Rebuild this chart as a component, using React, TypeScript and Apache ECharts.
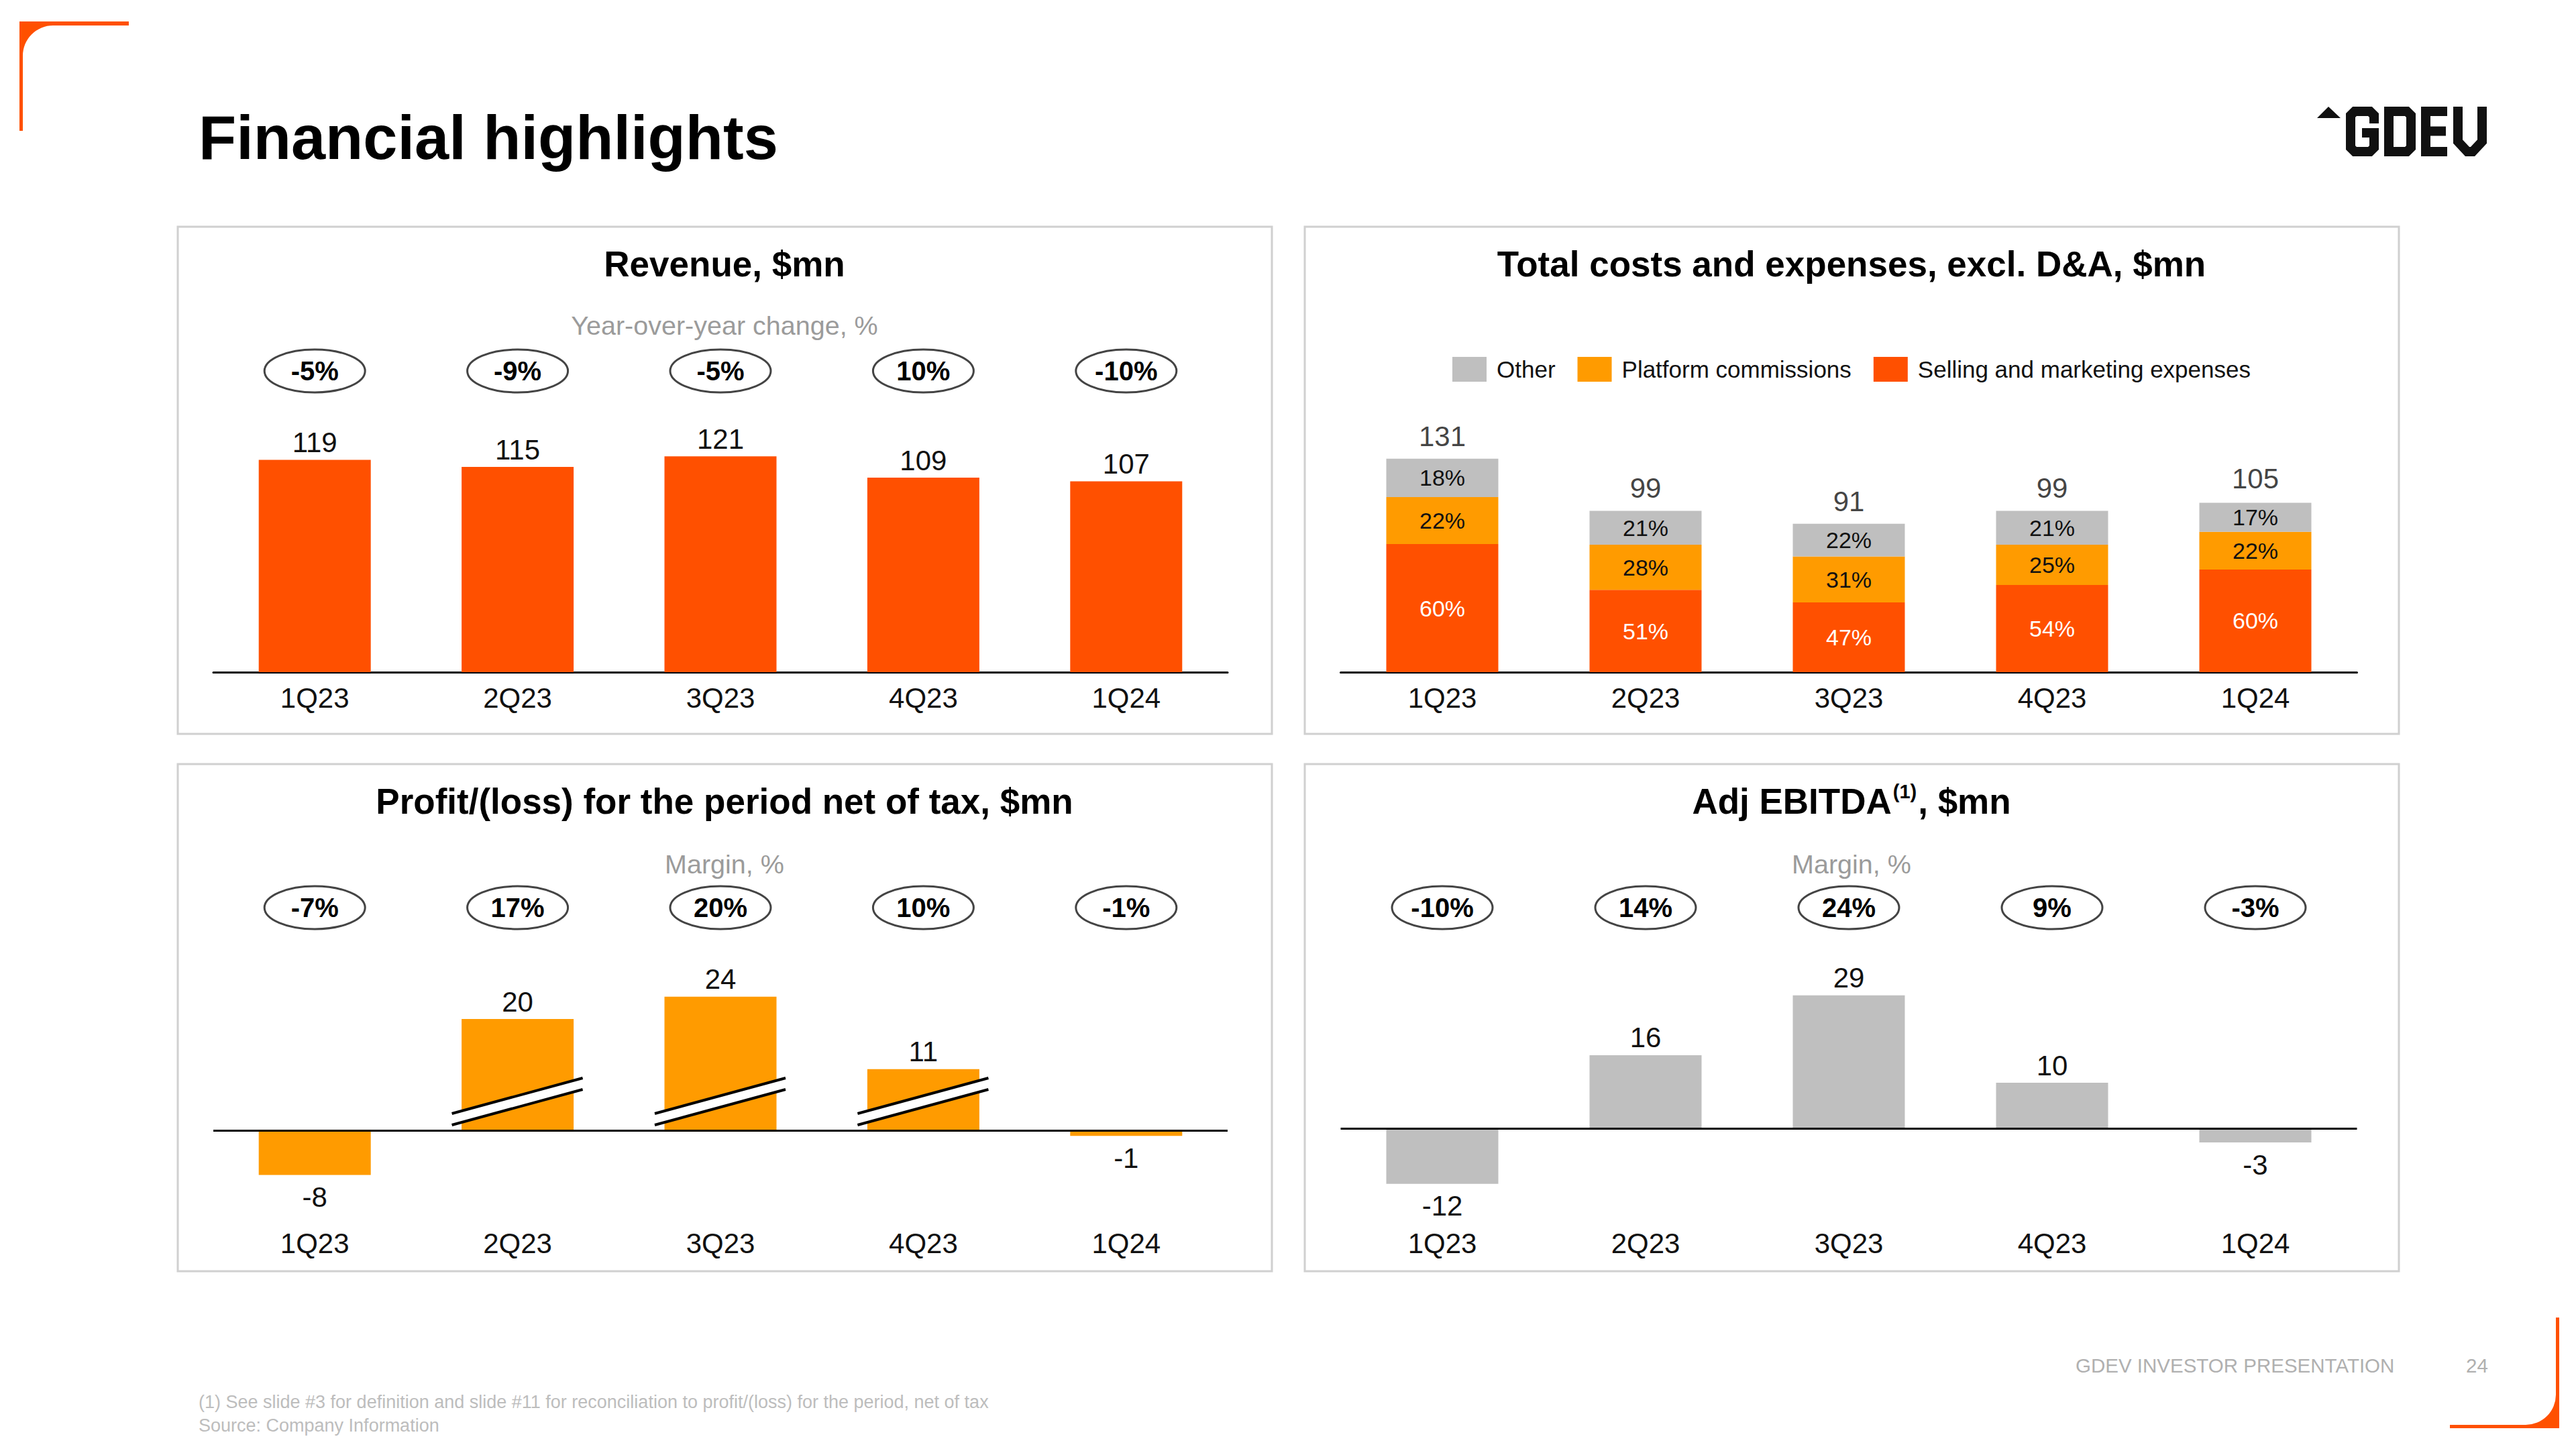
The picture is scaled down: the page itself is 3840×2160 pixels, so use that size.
import React, { useEffect, useRef } from "react";
import * as echarts from "echarts";

const quarters = ["1Q23", "2Q23", "3Q23", "4Q23", "1Q24"];
const revenue = [119, 115, 121, 109, 107];
const revenueYoY = ["-5%", "-9%", "-5%", "10%", "-10%"];
const costTotals = [131, 99, 91, 99, 105];
const costSellingPct = [60, 51, 47, 54, 60];
const costPlatformPct = [22, 28, 31, 25, 22];
const costOtherPct = [18, 21, 22, 21, 17];
const profit = [-8, 20, 24, 11, -1];
const profitMargin = ["-7%", "17%", "20%", "10%", "-1%"];
const profitBreak = [false, true, true, true, false];
const ebitda = [-12, 16, 29, 10, -3];
const ebitdaMargin = ["-10%", "14%", "24%", "9%", "-3%"];

const FONT = '"Liberation Sans", Arial, Helvetica, sans-serif';
const C_RED = "#FF5000";
const C_AMBER = "#FF9B00";
const C_GREY = "#BFBFBF";
const C_TEXT = "#111111";

const cornerTL =
  "M29 32 L192 32 L192 38 L79 38 A45 45 0 0 0 34 83 L34 195 L29 195 Z";
const cornerBR =
  "M3815 1964 L3815 2129 L3652 2129 L3652 2124 L3765 2124 A45 45 0 0 0 3810 2079 L3810 1964 Z";

let registered = false;
function registerShapes() {
  if (registered) return;
  registered = true;
  echarts.graphic.registerShape("cornerTL", echarts.graphic.extendPath(cornerTL, {}));
  echarts.graphic.registerShape("cornerBR", echarts.graphic.extendPath(cornerBR, {}));
}

function valueLabel(pos: string, dist?: number) {
  return {
    show: true,
    position: pos,
    distance: dist !== undefined ? dist : pos === "bottom" ? 12 : 5,
    fontSize: 42,
    color: C_TEXT,
    fontFamily: FONT,
  };
}

function signedData(arr: number[]) {
  return arr.map((v) => ({ value: v, label: valueLabel(v < 0 ? "bottom" : "top") }));
}

const zeroLine = {
  silent: true,
  symbol: "none",
  data: [{ yAxis: 0 }],
  lineStyle: { color: "#000", width: 3, type: "solid" },
  label: { show: false },
};

function catAxis(gridIndex: number, showLine: boolean, margin: number) {
  return {
    type: "category",
    gridIndex,
    data: quarters,
    axisLine: { show: showLine, onZero: false, lineStyle: { color: "#000", width: 3 } },
    axisTick: { show: false },
    axisLabel: { fontSize: 42, color: C_TEXT, margin, fontFamily: FONT },
  };
}

function valAxis(gridIndex: number, min: number, max: number) {
  return { type: "value", gridIndex, min, max, show: false, splitLine: { show: false } };
}

function txt(x: number, y: number, text: string, size: number, opts: any = {}) {
  return {
    type: "text",
    x,
    y,
    z: 20,
    style: {
      text,
      fontSize: size,
      fontFamily: FONT,
      fontWeight: opts.bold ? "bold" : "normal",
      fill: opts.color || "#000",
      align: opts.align || "center",
      verticalAlign: "middle",
    },
  };
}

export default function App() {
  const ref = useRef<HTMLDivElement>(null);

  useEffect(() => {
    document.body.style.margin = "0";
    document.body.style.overflow = "hidden";
    registerShapes();
    const chart = echarts.init(ref.current!, null, { renderer: "svg" });

    const option: any = {
      animation: false,
      backgroundColor: "#ffffff",
      textStyle: { fontFamily: FONT },
      legend: {
        data: ["Other", "Platform commissions", "Selling and marketing expenses"],
        left: 2165,
        top: 532,
        itemWidth: 51,
        itemHeight: 37,
        itemGap: 33,
        padding: 0,
        icon: "rect",
        selectedMode: false,
        textStyle: { fontSize: 35, color: C_TEXT, fontFamily: FONT, padding: [0, 0, 0, 10] },
      },
      grid: [
        { left: 318, top: 603, width: 1512, height: 399 },
        { left: 1998.5, top: 637.5, width: 1515, height: 364.5 },
        { left: 318, top: 1436, width: 1512, height: 332 },
        { left: 1998.5, top: 1442.75, width: 1515, height: 342.5 },
      ],
      xAxis: [
        catAxis(0, true, 17),
        catAxis(1, true, 17),
        catAxis(2, false, 64),
        catAxis(3, false, 47),
      ],
      yAxis: [valAxis(0, 0, 150), valAxis(1, 0, 150), valAxis(2, -10, 30), valAxis(3, -15, 35)],
      series: [
        {
          name: "Revenue",
          type: "bar",
          xAxisIndex: 0,
          yAxisIndex: 0,
          barWidth: 167,
          data: revenue,
          itemStyle: { color: C_RED },
          label: valueLabel("top"),
        },
        {
          name: "Selling and marketing expenses",
          type: "bar",
          stack: "cost",
          xAxisIndex: 1,
          yAxisIndex: 1,
          barWidth: 167,
          data: costTotals.map((t, i) => (t * costSellingPct[i]) / 100),
          itemStyle: { color: C_RED },
          label: {
            show: true,
            position: "inside",
            fontSize: 34,
            color: "#ffffff",
            formatter: (p: any) => costSellingPct[p.dataIndex] + "%",
          },
        },
        {
          name: "Platform commissions",
          type: "bar",
          stack: "cost",
          xAxisIndex: 1,
          yAxisIndex: 1,
          barWidth: 167,
          data: costTotals.map((t, i) => (t * costPlatformPct[i]) / 100),
          itemStyle: { color: C_AMBER },
          label: {
            show: true,
            position: "inside",
            fontSize: 34,
            color: C_TEXT,
            formatter: (p: any) => costPlatformPct[p.dataIndex] + "%",
          },
        },
        {
          name: "Other",
          type: "bar",
          stack: "cost",
          xAxisIndex: 1,
          yAxisIndex: 1,
          barWidth: 167,
          data: costTotals.map((t, i) => (t * costOtherPct[i]) / 100),
          itemStyle: { color: C_GREY },
          label: {
            show: true,
            position: "inside",
            fontSize: 34,
            color: C_TEXT,
            formatter: (p: any) => costOtherPct[p.dataIndex] + "%",
          },
        },
        {
          name: "Total",
          type: "scatter",
          xAxisIndex: 1,
          yAxisIndex: 1,
          symbolSize: 1,
          data: costTotals,
          itemStyle: { color: "rgba(0,0,0,0)" },
          label: valueLabel("top", 12),
          silent: true,
        },
        {
          name: "Profit",
          type: "bar",
          xAxisIndex: 2,
          yAxisIndex: 2,
          barWidth: 167,
          data: signedData(profit),
          itemStyle: { color: C_AMBER },
          markLine: zeroLine,
        },
        {
          name: "Adj EBITDA",
          type: "bar",
          xAxisIndex: 3,
          yAxisIndex: 3,
          barWidth: 167,
          data: signedData(ebitda),
          itemStyle: { color: C_GREY },
          markLine: zeroLine,
        },
      ],
    };
    chart.setOption(option);

    const graphics: any[] = [];
    const panels = [
      [265, 338],
      [1945, 338],
      [265, 1139],
      [1945, 1139],
    ];
    panels.forEach(([x, y]) =>
      graphics.push({
        type: "rect",
        shape: { x, y, width: 1631, height: 756 },
        style: { fill: "none", stroke: "#D0D0D0", lineWidth: 3 },
        z: 1,
      })
    );
    graphics.push({ type: "cornerTL", x: 0, y: 0, style: { fill: C_RED }, z: 5 });
    graphics.push({ type: "cornerBR", x: 0, y: 0, style: { fill: C_RED }, z: 5 });
    graphics.push(txt(296, 205, "Financial highlights", 92, { bold: true, align: "left" }));
    // logo
    const L = "#111111";
    graphics.push({
      type: "polygon",
      shape: { points: [[3454, 176], [3471, 159], [3489, 176]] },
      style: { fill: L },
      z: 5,
    });
    const off = (ox: number, oy: number, pts: number[][]) => pts.map(([a, b]) => [ox + a, oy + b]);
    const strokeStyle = { fill: "none", stroke: L, lineWidth: 14, lineJoin: "miter", lineCap: "butt" };
    graphics.push({
      type: "polyline",
      shape: {
        points: off(3497, 159, [
          [42, 25], [42, 13], [36, 7], [13, 7], [7, 13], [7, 61], [13, 67], [36, 67], [42, 61], [42, 39], [24, 39],
        ]),
      },
      style: strokeStyle,
      z: 5,
    });
    graphics.push({
      type: "polygon",
      shape: { points: off(3554, 159, [[7, 7], [34, 7], [40, 13], [40, 61], [34, 67], [7, 67]]) },
      style: strokeStyle,
      z: 5,
    });
    graphics.push({
      type: "polyline",
      shape: { points: off(3609, 159, [[39, 7], [7, 7], [7, 67], [39, 67]]) },
      style: strokeStyle,
      z: 5,
    });
    graphics.push({
      type: "line",
      shape: { x1: 3609 + 7, y1: 159 + 36.5, x2: 3609 + 37, y2: 159 + 36.5 },
      style: { stroke: L, lineWidth: 14 },
      z: 5,
    });
    graphics.push({
      type: "polyline",
      shape: { points: off(3657, 159, [[7, 0], [7, 52], [21, 67], [29, 67], [43, 52], [43, 0]]) },
      style: strokeStyle,
      z: 5,
    });
    // panel titles
    graphics.push(txt(1080, 393, "Revenue, $mn", 53, { bold: true }));
    graphics.push(txt(2760, 393, "Total costs and expenses, excl. D&A, $mn", 53, { bold: true }));
    graphics.push(txt(1080, 1194, "Profit/(loss) for the period net of tax, $mn", 53, { bold: true }));
    graphics.push({
      type: "text",
      x: 2760,
      y: 1194,
      z: 20,
      style: {
        text: "{b|Adj EBITDA}{s|(1)}{b|, $mn}",
        align: "center",
        verticalAlign: "middle",
        fontFamily: FONT,
        rich: {
          b: { fontSize: 53, fontWeight: "bold", fill: "#000", fontFamily: FONT, lineHeight: 58 },
          s: { fontSize: 29, fontWeight: "bold", fill: "#000", fontFamily: FONT, verticalAlign: "top", lineHeight: 58, padding: [0, 2, 0, 2] },
        },
      },
    });
    const SUB = "#9B9B9B";
    graphics.push(txt(1080, 485, "Year-over-year change, %", 39.5, { color: SUB }));
    graphics.push(txt(1080, 1288, "Margin, %", 39.5, { color: SUB }));
    graphics.push(txt(2760, 1288, "Margin, %", 39.5, { color: SUB }));

    const addEllipses = (axisIdx: number, labels: string[], cy: number) => {
      labels.forEach((lab, i) => {
        const p = chart.convertToPixel({ xAxisIndex: axisIdx, yAxisIndex: axisIdx }, [quarters[i], 0]) as number[];
        const cx = p[0];
        graphics.push({
          type: "ellipse",
          shape: { cx, cy, rx: 75, ry: 32 },
          style: { fill: "#fff", stroke: "#444", lineWidth: 3 },
          z: 20,
        });
        graphics.push({ ...txt(cx, cy, lab, 40, { bold: true }), z: 21 });
      });
    };
    addEllipses(0, revenueYoY, 553);
    addEllipses(2, profitMargin, 1353);
    addEllipses(3, ebitdaMargin, 1353);

    profitBreak.forEach((flag, i) => {
      if (!flag) return;
      const p = chart.convertToPixel({ xAxisIndex: 2, yAxisIndex: 2 }, [quarters[i], 0]) as number[];
      const cx = p[0];
      const y0 = p[1];
      graphics.push({
        type: "polygon",
        shape: {
          points: [
            [cx - 98, y0 - 8],
            [cx + 97, y0 - 61],
            [cx + 97, y0 - 78],
            [cx - 98, y0 - 25],
          ],
        },
        style: { fill: "#ffffff" },
        z: 30,
      });
      graphics.push({
        type: "line",
        shape: { x1: cx - 98, y1: y0 - 8, x2: cx + 97, y2: y0 - 61 },
        style: { stroke: "#000", lineWidth: 4 },
        z: 31,
      });
      graphics.push({
        type: "line",
        shape: { x1: cx - 98, y1: y0 - 25, x2: cx + 97, y2: y0 - 78 },
        style: { stroke: "#000", lineWidth: 4 },
        z: 31,
      });
    });

    const FN = "#BDBDBD";
    graphics.push(
      txt(
        296,
        2090,
        "(1) See slide #3 for definition and slide #11 for reconciliation to profit/(loss) for the period, net of tax",
        27,
        { color: FN, align: "left" }
      )
    );
    graphics.push(txt(296, 2125, "Source: Company Information", 27, { color: FN, align: "left" }));
    graphics.push(txt(3094, 2035, "GDEV INVESTOR PRESENTATION", 29.5, { color: "#B0B0B0", align: "left" }));
    graphics.push(txt(3676, 2035, "24", 29.5, { color: "#B0B0B0", align: "left" }));

    chart.setOption({ graphic: graphics });

    return () => {
      chart.dispose();
    };
  }, []);

  return <div ref={ref} style={{ width: 3840, height: 2160 }} />;
}
